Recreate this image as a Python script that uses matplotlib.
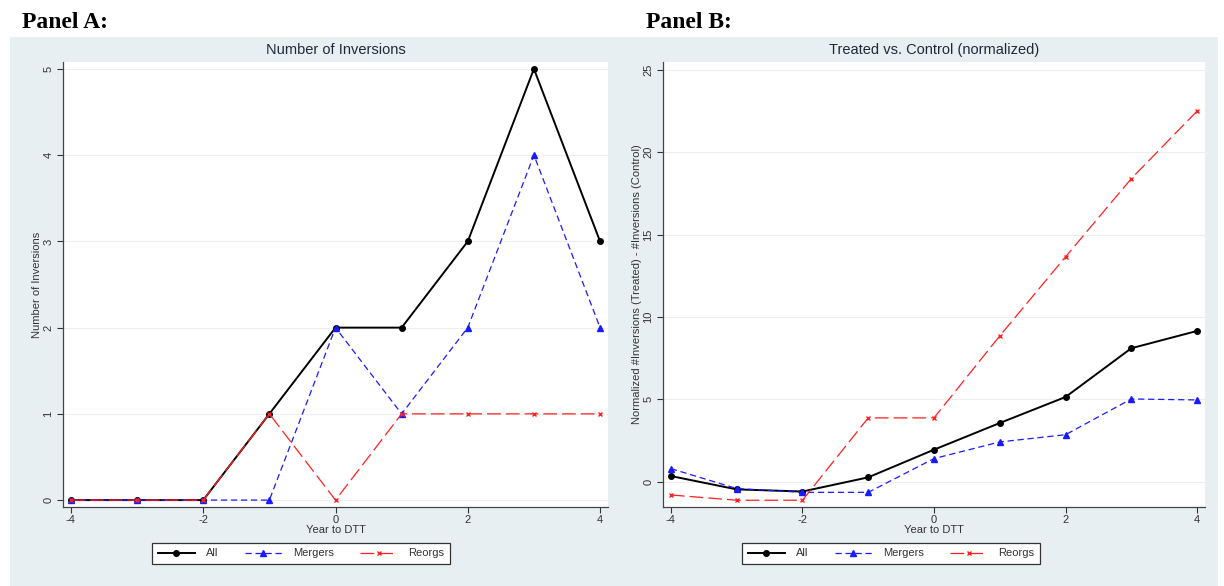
import matplotlib
matplotlib.use("Agg")
import matplotlib.pyplot as plt
from matplotlib.patches import Rectangle

plt.rcParams["font.family"] = ["Liberation Sans", "DejaVu Sans"]
plt.rcParams["axes.unicode_minus"] = False

# =====================================================
# DATA
# =====================================================
years = [-4, -3, -2, -1, 0, 1, 2, 3, 4]

count_all = [0, 0, 0, 1, 2, 2, 3, 5, 3]
count_mergers = [0, 0, 0, 0, 2, 1, 2, 4, 2]
count_reorgs = [0, 0, 0, 1, 0, 1, 1, 1, 1]

norm_all = [0.34, -0.47, -0.6, 0.26, 1.94, 3.56, 5.14, 8.1, 9.15]
norm_mergers = [0.79, -0.42, -0.65, -0.65, 1.4, 2.41, 2.85, 5.02, 4.96]
norm_reorgs = [-0.81, -1.13, -1.13, 3.87, 3.87, 8.85, 13.65, 18.4, 22.5]

x_ticks = [-4, -2, 0, 2, 4]
a_ticks = [0, 1, 2, 3, 4, 5]
b_ticks = [0, 5, 10, 15, 20, 25]

series_labels = ["All", "Mergers", "Reorgs"]

BG = "#e8eff2"
TITLE_COLOR = "#1e2a3a"
TEXT_COLOR = "#333333"


# =====================================================
# ONE PANEL
# =====================================================
def draw_panel(ax, ys, title, ylabel, yticks, ylim):
    s_all, s_merg, s_reorg = ys

    ax.plot(years, s_all, color="black", lw=1.4, marker="o", ms=4,
            label=series_labels[0], zorder=3)
    ax.plot(years, s_merg, color="#1a1aff", lw=0.9, ls=(0, (5, 3)),
            marker="^", ms=4.5, label=series_labels[1], zorder=4)
    ax.plot(years, s_reorg, color="#ff2020", lw=0.9, ls=(0, (11, 4)),
            marker="x", ms=3.5, mew=1, label=series_labels[2], zorder=5)

    ax.set_facecolor("white")
    ax.set_xlim(-4.12, 4.12)
    ax.set_ylim(*ylim)
    ax.set_xticks(x_ticks)
    ax.set_yticks(yticks)
    ax.tick_params(axis="y", labelrotation=90, labelsize=8, colors=TEXT_COLOR,
                   length=4, pad=3)
    ax.tick_params(axis="x", labelsize=8, colors=TEXT_COLOR, length=4, pad=2)
    for lbl in ax.get_yticklabels():
        lbl.set_va("center")

    ax.grid(axis="y", color="#eeeeee", lw=0.8)
    ax.set_axisbelow(True)
    for side in ["top", "right"]:
        ax.spines[side].set_visible(False)
    for side in ["left", "bottom"]:
        ax.spines[side].set_color("#444444")
        ax.spines[side].set_linewidth(0.9)

    ax.set_title(title, fontsize=10.5, color=TITLE_COLOR, pad=6, y=1.0)
    ax.set_xlabel("Year to DTT", fontsize=8, color=TEXT_COLOR, labelpad=0)
    ax.set_ylabel(ylabel, fontsize=8, color=TEXT_COLOR, labelpad=1)


fig = plt.figure(figsize=(12.24, 5.86), dpi=100)
fig.patch.set_facecolor("white")

# gray graph region behind both panels
fig.patches.append(Rectangle((10 / 1224, 0), 1208 / 1224, 1 - 37 / 586,
                             transform=fig.transFigure, facecolor=BG,
                             edgecolor="none", zorder=-5))

ax_a = fig.add_axes([63 / 1224, 1 - 507 / 586, 545 / 1224, 445 / 586])
ax_b = fig.add_axes([663 / 1224, 1 - 507 / 586, 542 / 1224, 445 / 586])

draw_panel(ax_a, (count_all, count_mergers, count_reorgs),
           "Number of Inversions", "Number of Inversions", a_ticks, (-0.08, 5.08))
draw_panel(ax_b, (norm_all, norm_mergers, norm_reorgs),
           "Treated vs. Control (normalized)",
           "Normalized #Inversions (Treated) - #Inversions (Control)",
           b_ticks, (-1.54, 25.48))

# legends under each panel
for ax, cx in [(ax_a, 301), (ax_b, 891)]:
    handles, labels = ax.get_legend_handles_labels()
    leg = fig.legend(handles, labels, loc="center", ncol=3,
                     bbox_to_anchor=(cx / 1224, 1 - 553.5 / 586),
                     fontsize=8, frameon=True, fancybox=False, framealpha=1,
                     facecolor="white",
                     handlelength=3.3, columnspacing=2.4, handletextpad=1.0,
                     borderpad=0.5)
    leg.get_frame().set_edgecolor("#333333")
    leg.get_frame().set_linewidth(0.9)
    for t in leg.get_texts():
        t.set_color(TEXT_COLOR)

# panel headings
for x, txt in [(22, "Panel A:"), (646, "Panel B:")]:
    fig.text(x / 1224, 1 - 23 / 586, txt, fontsize=17, fontweight="bold",
             family=["Liberation Serif", "DejaVu Serif"], va="center", ha="left")

fig.savefig("out.png", dpi=100, facecolor=fig.get_facecolor())
